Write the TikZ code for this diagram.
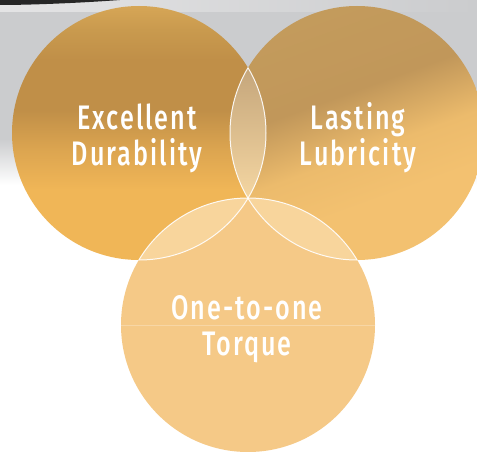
\documentclass[tikz,border=0pt]{standalone}
\usepackage{fontspec}
\setmainfont{Fira Sans}[UprightFont=* Medium, FakeStretch=0.74, LetterSpace=6]
\usepackage{tikz}
\usetikzlibrary{positioning}

\definecolor{bgGray}{HTML}{CBCCCE}
\definecolor{bgLight}{HTML}{E4E4E5}
\definecolor{durTop}{HTML}{D6A656}
\definecolor{durUp}{HTML}{C99A4E}
\definecolor{durMid}{HTML}{C08F48}
\definecolor{durLow}{HTML}{DCA550}
\definecolor{durBot}{HTML}{F0B657}
\definecolor{lubTop}{HTML}{C39B5C}
\definecolor{lubMid}{HTML}{C1975A}
\definecolor{lubLow}{HTML}{ECBB6C}
\definecolor{lubBot}{HTML}{F3C170}
\definecolor{torFill}{HTML}{F5C987}
\definecolor{lensSide}{HTML}{F8D59C}
\definecolor{lensTop}{HTML}{C5A67B}
\definecolor{lensBot}{HTML}{F4D6A2}

\pgfdeclareverticalshading{durShade}{100bp}{color(0bp)=(durBot); color(38.8bp)=(durBot); color(46.7bp)=(durLow); color(54.5bp)=(durMid); color(64.4bp)=(durMid); color(70.3bp)=(durUp); color(75bp)=(durTop); color(100bp)=(durTop)}
\pgfdeclareverticalshading{lubShade}{100bp}{color(0bp)=(lubBot); color(36bp)=(lubBot); color(46bp)=(lubLow); color(58bp)=(lubMid); color(75bp)=(lubTop); color(100bp)=(lubTop)}
\pgfdeclareverticalshading{skyShade}{100bp}{color(0bp)=(white); color(29bp)=(white); color(41bp)=(bgGray); color(100bp)=(bgGray)}

\begin{document}
\begin{tikzpicture}[
    x=1pt, y=-1pt,
    venn/.style={circle, minimum size=254pt, inner sep=0pt, outer sep=0pt},
    lbl/.style={text=white, font=\fontsize{34}{36}\selectfont, align=center, inner sep=0pt},
    rim/.style={white, line width=1pt, opacity=0.9},
  ]
    \useasboundingbox (0,0) rectangle (477,452);

    % backdrop
    \fill[white] (0,0) rectangle (477,452);
    \shade[shading=skyShade] (0,8) rectangle (477,200);
    \shade[left color=bgLight, right color=bgGray] (0,0) rectangle (477,12);
    \fill[black!85] (0,0) -- (120,0) .. controls (80,3) and (30,5) .. (0,5) -- cycle;

    \node[venn, shade, shading=durShade] (dur) at (139,133) {};
    \node[venn, shade, shading=lubShade, shading angle=20] (lub) at (357,133) {};
    \node[venn, fill=torFill] (tor) at (248,325) {};

    % overlaps
    \begin{scope}
      \clip (dur.center) circle[radius=127pt];
      \fill[lensSide] (tor.center) circle[radius=127pt];
      \clip (lub.center) circle[radius=127pt];
      \shade[top color=lensTop, bottom color=lensBot] (215,68) rectangle (281,198);
    \end{scope}
    \begin{scope}
      \clip (lub.center) circle[radius=127pt];
      \fill[lensSide] (tor.center) circle[radius=127pt];
    \end{scope}

    \foreach \a/\b in {dur/lub, lub/dur, dur/tor, tor/dur, lub/tor, tor/lub} {
      \begin{scope}
        \clip (\a.center) circle[radius=127pt];
        \draw[rim] (\b.center) circle[radius=127pt];
      \end{scope}
    }

    \draw[white, opacity=0.25, line width=0.8pt] (tor.west) -- (tor.east);

    \node[lbl] (durtxt) at (137,138) {Excellent\\Durability};
    \node[lbl] (lubtxt) at (358,138) {Lasting\\Lubricity};
    \node[lbl] (tortxt) at (247,329) {One-to-one\\Torque};
  \end{tikzpicture}
\end{document}
